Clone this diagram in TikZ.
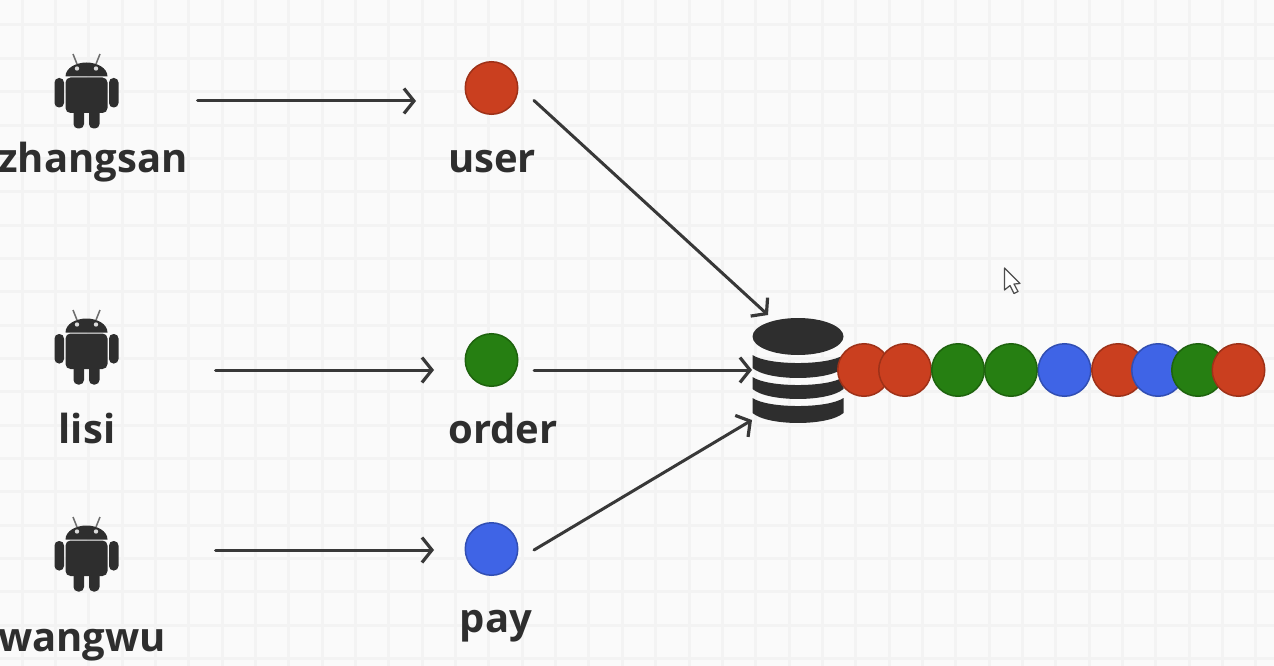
\documentclass[tikz,border=0pt]{standalone}
\usepackage{fontspec}
\setmainfont{Open Sans}
\usetikzlibrary{arrows.meta}
\definecolor{bgc}{HTML}{FAFAFA}
\definecolor{gridc}{HTML}{F3F3F3}
\definecolor{ink}{HTML}{2E2E2E}
\definecolor{redc}{HTML}{CA3F1F}
\definecolor{greenc}{HTML}{267F12}
\definecolor{bluec}{HTML}{3F64E6}
\tikzset{
  x=1pt,y=-1pt,
  conn/.style={draw=ink!95!white,line width=3pt,line cap=round,-{Straight Barb[length=10pt,width=25pt,line width=3.2pt]}},
  ball/.style={circle,inner sep=0pt,minimum size=52.5pt,line width=1.5pt},
  rball/.style={ball,fill=redc,draw=redc!78!black},
  gball/.style={ball,fill=greenc,draw=greenc!78!black},
  bball/.style={ball,fill=bluec,draw=bluec!78!black},
  lbl/.style={font=\fontsize{40}{43}\selectfont\bfseries,text=ink,inner sep=0pt,anchor=base},
  iconbox/.style={inner sep=0pt,minimum width=64pt,minimum height=74pt},
  android/.pic={
    \fill[ink] (-20.5,-15.5) .. controls (-20.5,-24) and (-10,-29.5) .. (0.5,-29.5) .. controls (11,-29.5) and (21.5,-24) .. (21.5,-15.5) -- cycle;
    \fill[ink,rounded corners=5pt] (-20.5,-14.5) -- (21.5,-14.5) -- (21.5,21) -- (-20.5,21) -- cycle;
    \fill[ink,rounded corners=4.5pt] (-31.5,-14) rectangle (-22,15.5);
    \fill[ink,rounded corners=4.5pt] (23,-14) rectangle (32.5,15.5);
    \fill[ink,rounded corners=4.5pt] (-12.5,12) rectangle (-2,36.5);
    \fill[ink,rounded corners=4.5pt] (3,12) rectangle (13.5,36.5);
    \draw[ink!70,line width=1.5pt] (-9,-28) -- (-13,-38);
    \draw[ink!70,line width=1.5pt] (10,-28) -- (14,-38);
    \fill[bgc!85!ink] (-9,-23.5) circle (2.2);
    \fill[bgc!85!ink] (10,-23.5) circle (2.2);
  },
}
\begin{document}
\begin{tikzpicture}
\useasboundingbox (0,0) rectangle (1274,666);
\begin{scope}
\clip (0,0) rectangle (1274,666);
\fill[bgc] (0,0) rectangle (1274,666);
\foreach \k in {0,...,37}{\draw[gridc,line width=3pt] ({22+33.35*\k},0) -- ({22+33.35*\k},666);}
\foreach \k in {0,...,19}{\draw[gridc,line width=3pt] (0,{25+33.35*\k}) -- (1274,{25+33.35*\k});}

% clients
\node[iconbox] (andr1) at (86,92) {};
\node[iconbox] (andr2) at (86,348) {};
\node[iconbox] (andr3) at (86,555) {};
\pic at (andr1) {android};
\pic at (andr2) {android};
\pic at (andr3) {android};
\node[lbl] (lz) at (93,172) {zhangsan};
\node[lbl] (ll) at (87,443) {lisi};
\node[lbl] (lw) at (82,651) {wangwu};

% topics
\node[rball] (user) at (491.5,88) {};
\node[gball] (order) at (491.5,360) {};
\node[bball] (pay) at (491.5,549) {};
\node[lbl] (lu) at (492,172) {user};
\node[lbl] (lo) at (503,443) {order};
\node[lbl] (lp) at (496,632) {pay};

% database
\node[inner sep=0pt,minimum width=91pt,minimum height=106pt] (db) at (798,371) {};
\fill[ink] (798,336.5) ellipse (45.5 and 18.5);
\foreach \t/\b in {355/368,377/389,398/413}{
  \pgfmathsetmacro{\ct}{\t+10.7}
  \pgfmathsetmacro{\cb}{\b+13.3}
  \fill[ink] (752.5,\t) .. controls (768,\ct) and (828,\ct) .. (843.5,\t) -- (843.5,\b)
     .. controls (828,\cb) and (768,\cb) .. (752.5,\b) -- cycle;
}

% queue
\node[rball] (q1) at (864,370) {};
\node[rball] (q2) at (905,370) {};
\node[gball] (q3) at (958,370) {};
\node[gball] (q4) at (1011,370) {};
\node[bball] (q5) at (1064.5,370) {};
\node[rball] (q6) at (1118,370) {};
\node[bball] (q7) at (1158,370) {};
\node[gball] (q8) at (1198,370) {};
\node[rball] (q9) at (1238.5,370) {};

% connectors
\draw[conn] ([shift={(111.5,9)}]andr1.center) -- ([shift={(-75.5,13)}]user.center);
\draw[conn] ([shift={(129.5,22)}]andr2.center) -- ([shift={(-57.5,10)}]order.center);
\draw[conn] ([shift={(129.5,-5)}]andr3.center) -- ([shift={(-57.5,1)}]pay.center);
\draw[conn] ([shift={(42.5,12.5)}]user.center) -- ([shift={(-30,-56)}]db.center);
\draw[conn] ([shift={(42.5,10)}]order.center) -- ([shift={(-46,-1)}]db.center);
\draw[conn] ([shift={(42.5,1)}]pay.center) -- ([shift={(-46,49)}]db.center);

% mouse pointer
\fill[white,draw=ink!85,line width=1.2pt,line join=round]
  (1004.5,268) -- (1004.5,290) -- (1010,285.5) -- (1014,293.5) -- (1018,291.5) -- (1014,284) -- (1020,283.5) -- cycle;
\end{scope}
\end{tikzpicture}
\end{document}
